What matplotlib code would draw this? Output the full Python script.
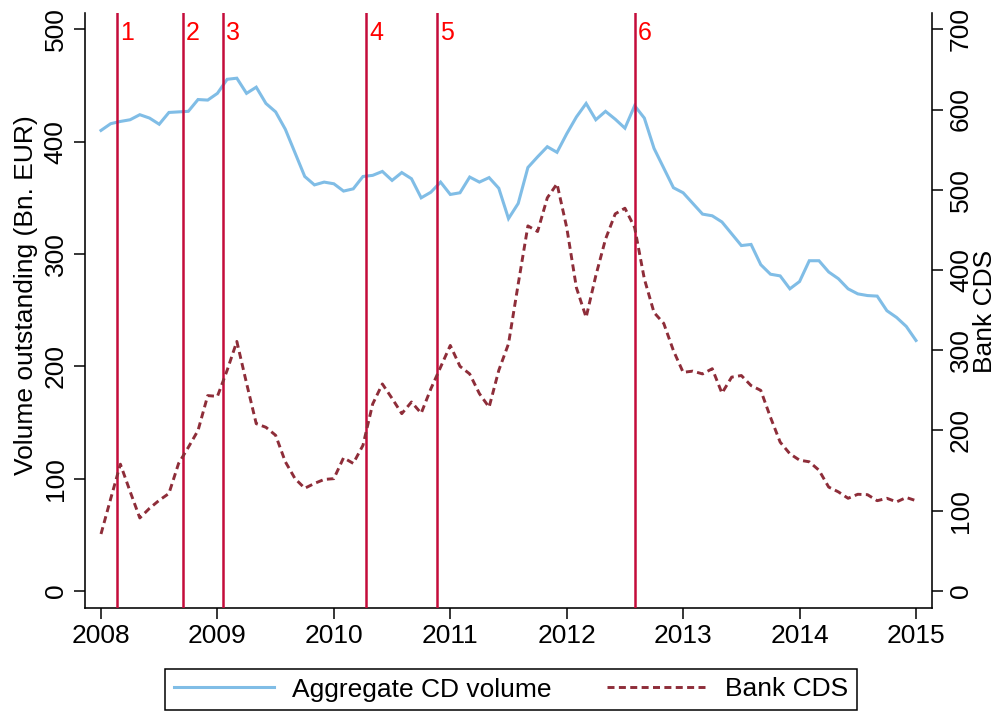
import numpy as np
import matplotlib
matplotlib.use("Agg")
import matplotlib.pyplot as plt
import matplotlib.transforms as mtransforms

plt.rcParams['font.family'] = ['Liberation Sans', 'DejaVu Sans']

# ---- data (monthly, 2008m1 .. 2015m1) ----
cd_volume = [410, 416, 418, 419.5, 424, 421, 415.5, 426, 426.5, 427,
             437.5, 437, 443, 455.5, 456.5, 443, 448.5, 434, 426.5, 411,
             390, 369, 361.5, 364, 362.5, 356, 358, 369, 370, 373.5,
             365.5, 372.5, 367, 350, 355, 364, 353, 354.5, 368.5, 364,
             368, 358.5, 331.5, 345, 377, 386.5, 395.5, 390.5, 407, 422,
             434, 419.5, 427, 420, 412, 432, 421, 394, 376.5, 359,
             354.5, 345, 335.5, 334, 328.5, 318, 307.5, 308.5, 290.5, 282,
             280.5, 269, 275.5, 294, 294, 284, 278, 269, 264.5, 263,
             262.5, 249.5, 243.5, 235.5, 223]
bank_cds = [71, 115, 158, 124, 91, 103, 113, 121.5, 159, 179,
            200, 243.5, 242.5, 275, 311, 259, 208.5, 204, 194, 161,
            140, 128, 134, 139, 140, 166, 159, 181.5, 233, 258,
            240, 221, 235.5, 221.5, 252, 279, 306, 280, 270.5, 246,
            229, 275, 308, 382.5, 455, 448, 490, 507.5, 453, 378,
            341, 393, 438.5, 470, 477, 453, 389, 347, 333.5, 299.5,
            272.5, 274, 270.5, 277, 246.5, 266.5, 268.5, 256, 250, 216.5,
            185.5, 171, 163, 161, 150.5, 129.5, 123.5, 115.5, 120.5, 120,
            112.5, 115.5, 111, 116.5, 112.5]
start_year = 2008
dates = start_year + np.arange(len(cd_volume)) / 12.0

event_dates = [2008.140, 2008.704, 2009.048, 2010.279, 2010.889, 2012.584]
event_labels = ["1", "2", "3", "4", "5", "6"]

x_ticks = [2008, 2009, 2010, 2011, 2012, 2013, 2014, 2015]
left_ticks = [0, 100, 200, 300, 400, 500]
right_ticks = [0, 100, 200, 300, 400, 500, 600, 700]

# ---- styles ----
BLUE = '#80bde6'
MAROON = '#8e2d39'
CRIMSON = '#c40c3a'
FS = 19

fig = plt.figure(figsize=(10.01, 7.18), dpi=100)
ax = fig.add_axes([85 / 1001, 1 - 607.5 / 718, (932.3 - 85) / 1001, (607.5 - 12.7) / 718])
ax2 = ax.twinx()

for a in (ax, ax2):
    a.spines['top'].set_visible(False)
    for s in ('left', 'right', 'bottom'):
        a.spines[s].set_linewidth(1.15)
        a.spines[s].set_color('black')
    a.patch.set_visible(False)

ax.spines['right'].set_visible(False)
ax2.spines['left'].set_visible(False)
ax2.spines['bottom'].set_visible(False)

for xv in event_dates:
    ax.axvline(xv, color=CRIMSON, lw=1.8, zorder=3)

ax.plot(dates, cd_volume, color=BLUE, lw=2.2, solid_joinstyle='miter', zorder=2,
        label='Aggregate CD volume')
ax2.plot(dates, bank_cds, color=MAROON, lw=2.1, linestyle=(0, (2.4, 1.5)), zorder=2,
         label='Bank CDS')

ax.set_xlim(2007.8626, 2015.140)
ax.set_ylim(-14.7, 514.8)
ax2.set_ylim(-20.6, 720.7)

ax.set_xticks(x_ticks)
ax.set_xticklabels([str(v) for v in x_ticks])
ax.set_yticks(left_ticks)
ax.set_yticklabels([str(v) for v in left_ticks], rotation=90, va='center')
ax2.set_yticks(right_ticks)
ax2.set_yticklabels([str(v) for v in right_ticks], rotation=90, va='center')

ax.tick_params(axis='x', direction='out', length=8, width=1.1, labelsize=FS, pad=4)
ax.tick_params(axis='y', direction='out', length=8, width=1.1, labelsize=FS, pad=4.5)
ax2.tick_params(axis='y', direction='out', length=8, width=1.1, labelsize=FS, pad=4)

# event labels
trans = mtransforms.blended_transform_factory(ax.transData, ax.transAxes)
offset = mtransforms.ScaledTranslation(2 / 72, 0, fig.dpi_scale_trans)
for xv, lab in zip(event_dates, event_labels):
    ax.text(xv, 0.986, lab, transform=trans + offset, color='red',
            fontsize=18, ha='left', va='top', zorder=4)

# axis titles
fig.text(26 / 1001, 1 - 295 / 718, 'Volume outstanding (Bn. EUR)', rotation=90,
         ha='center', va='center', fontsize=FS)
fig.text(985 / 1001, 1 - 311 / 718, 'Bank CDS', rotation=90,
         ha='center', va='center', fontsize=FS)

# legend
h1, l1 = ax.get_legend_handles_labels()
h2, l2 = ax2.get_legend_handles_labels()
leg = fig.legend(h1 + h2, l1 + l2, loc='center', bbox_to_anchor=(511 / 1001, 1 - 689.5 / 718),
                 ncol=2, fontsize=FS, frameon=True, fancybox=False, shadow=False,
                 handlelength=3.79, handletextpad=0.68, columnspacing=2.1,
                 borderpad=0.34, framealpha=1)
leg.get_frame().set_edgecolor('black')
leg.get_frame().set_linewidth(1.1)

fig.savefig('out.png', dpi=100)
